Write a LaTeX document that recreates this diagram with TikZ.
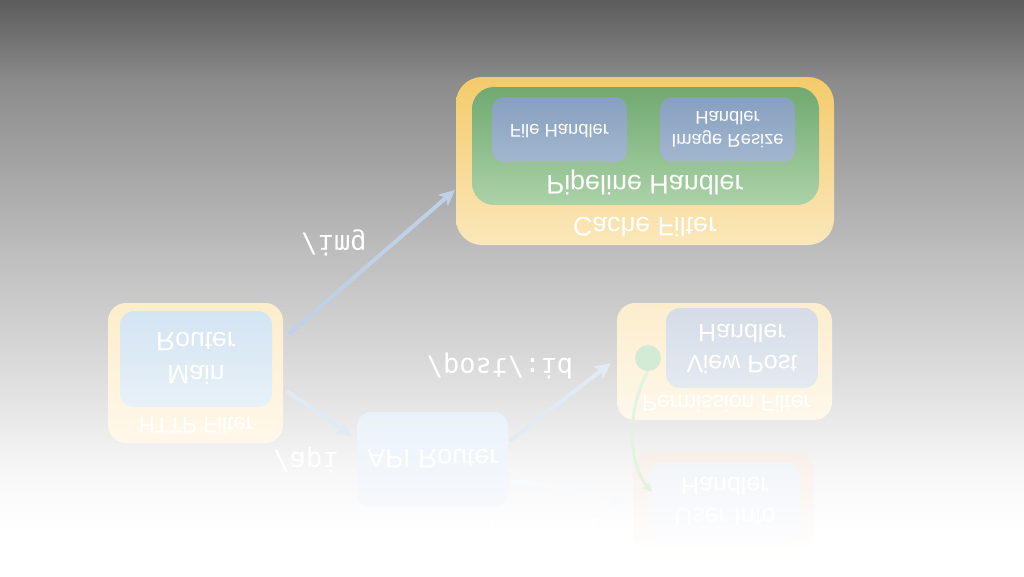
\documentclass[tikz,border=0pt]{standalone}
\usepackage{fontspec}
\setmainfont{Liberation Sans}
\newfontfamily\monofont{DejaVu Sans Mono}
\usetikzlibrary{arrows.meta}
\definecolor{bgA}{HTML}{5C5C5C}
\definecolor{bgB}{HTML}{8B8B8B}
\definecolor{bgC}{HTML}{BDBDBD}
\definecolor{bgD}{HTML}{E4E4E4}
\definecolor{bgE}{HTML}{F7F7F7}
\definecolor{bgF}{HTML}{FFFFFF}
\definecolor{cacheT}{HTML}{F4CB6A}
\definecolor{cacheB}{HTML}{FAE7BA}
\definecolor{pipeT}{HTML}{70A970}
\definecolor{pipeB}{HTML}{ACD2A8}
\definecolor{hndT}{HTML}{86A0BF}
\definecolor{hndB}{HTML}{A3B6CF}
\definecolor{httpT}{HTML}{FCEDCB}
\definecolor{httpB}{HTML}{FFF8EA}
\definecolor{mainT}{HTML}{D3E4F2}
\definecolor{mainB}{HTML}{E8F1F8}
\definecolor{permT}{HTML}{FCEDCD}
\definecolor{permB}{HTML}{FEF8EC}
\definecolor{viewT}{HTML}{D5DCE7}
\definecolor{viewB}{HTML}{E5EAF1}
\definecolor{apiT}{HTML}{EAF2F9}
\definecolor{apiB}{HTML}{F7F9FC}
\definecolor{usroT}{HTML}{F9EFE9}
\definecolor{usroB}{HTML}{FFFFFF}
\definecolor{usriT}{HTML}{F2F5F9}
\definecolor{usriB}{HTML}{FDFDFE}
\definecolor{arrImg}{HTML}{BED1E7}
\definecolor{arrApi}{HTML}{E0EAF4}
\definecolor{arrPost}{HTML}{E2EBF5}
\definecolor{arrUser}{HTML}{F8FAFC}
\definecolor{gDot}{HTML}{D3EBD5}
\definecolor{gLine}{HTML}{E2F3E2}
\begin{document}
\begin{tikzpicture}[x=1pt,y=-1pt,
  box/.style={rectangle, draw=none, inner sep=0pt, outer sep=0pt},
  flip/.style={yscale=-1, text=white, inner sep=0pt, outer sep=0pt, align=center},
  lbl/.style={flip, font=\monofont\fontsize{27}{32}\selectfont},
  arr/.style={line width=4pt, line cap=round, -{Stealth[length=16pt, width=15pt, inset=4pt]}}]
\useasboundingbox (0,0) rectangle (1024,576);
% background
\shade[top color=bgA, bottom color=bgB] (0,0) rectangle (1024,81);
\shade[top color=bgB, bottom color=bgC] (0,80) rectangle (1024,251);
\shade[top color=bgC, bottom color=bgD] (0,250) rectangle (1024,401);
\shade[top color=bgD, bottom color=bgE] (0,400) rectangle (1024,471);
\shade[top color=bgE, bottom color=bgF] (0,470) rectangle (1024,531);
\fill[bgF] (0,530) rectangle (1024,576);

% Cache filter group
\node[box, minimum width=378pt, minimum height=168pt, rounded corners=26pt, top color=cacheT, bottom color=cacheB] (cache) at (645,161) {};
\node[box, minimum width=347pt, minimum height=118pt, rounded corners=22pt, top color=pipeT, bottom color=pipeB] (pipe) at (645.5,146) {};
\node[box, minimum width=135pt, minimum height=65pt, rounded corners=12pt, top color=hndT, bottom color=hndB] (file) at (559.5,129.5) {};
\node[box, minimum width=135pt, minimum height=65pt, rounded corners=12pt, top color=hndT, bottom color=hndB] (resize) at (727.5,129.5) {};
\node[flip, font=\fontsize{26.7}{33}\selectfont] (cachelbl) at (645,227) {Cache Filter};
\node[flip, font=\fontsize{26.9}{33}\selectfont] (pipelbl) at (645,182.5) {Pipeline Handler};
\node[flip, font=\fontsize{18.4}{23}\selectfont] (filelbl) at (559.5,131) {File Handler};
\node[flip, font=\fontsize{18.4}{23}\selectfont] (resizelbl) at (727.5,130) {Image Resize\\Handler};

% HTTP filter group
\node[box, minimum width=175pt, minimum height=140pt, rounded corners=18pt, top color=httpT, bottom color=httpB] (http) at (195.5,373) {};
\node[box, minimum width=152pt, minimum height=96pt, rounded corners=14pt, top color=mainT, bottom color=mainB] (main) at (196,359) {};
\node[flip, font=\fontsize{26.5}{33}\selectfont] (mainlbl) at (196,358) {Main\\Router};
\node[flip, font=\fontsize{22.5}{28}\selectfont] (httplbl) at (196,426) {HTTP Filter};

% Permission filter group
\node[box, minimum width=215pt, minimum height=117pt, rounded corners=18pt, top color=permT, bottom color=permB] (perm) at (724.5,361.5) {};
\node[box, minimum width=152pt, minimum height=80pt, rounded corners=14pt, top color=viewT, bottom color=viewB] (view) at (742,348) {};
\node[flip, font=\fontsize{25}{31}\selectfont] (viewlbl) at (742,349) {View Post\\Handler};
\node[flip, font=\fontsize{22.7}{28}\selectfont] (permlbl) at (726.5,404) {Permission Filter};

% API router
\node[box, minimum width=151pt, minimum height=95pt, rounded corners=14pt, top color=apiT, bottom color=apiB] (api) at (432.5,459.5) {};
\node[flip, font=\fontsize{26.8}{33}\selectfont] (apilbl) at (433,459) {API Router};

% User info group
\node[box, minimum width=180pt, minimum height=100pt, rounded corners=18pt, top color=usroT, bottom color=usroB] (usro) at (723,502) {};
\node[box, minimum width=152pt, minimum height=78pt, rounded corners=14pt, top color=usriT, bottom color=usriB] (usri) at (724,501) {};
\node[flip, font=\fontsize{25}{31}\selectfont] (usrlbl) at (725,501.5) {User Info\\Handler};

% connectors
\draw[arr, color=arrImg] ([shift={(7,-40)}]http.east) -- ([shift={(-1,29)}]cache.west);
\draw[arr, color=arrApi] ([shift={(5,19)}]http.east) -- ([shift={(-5,-23.5)}]api.west);
\draw[arr, color=arrPost] ([shift={(3,-19.5)}]api.east) -- ([shift={(-6,1.5)}]perm.west);
\draw[arr, color=arrUser] ([shift={(3,20.5)}]api.east) -- ([shift={(-5,-2)}]usro.west);

\node[lbl] (limg) at (334,243) {/img};
\node[lbl] (lapi) at (306,460) {/api};
\node[lbl] (lpost) at (500,365.5) {/post/:id};
\node[lbl] (luser) at (545,528) {/user/:id};

% green connector
\node[circle, fill=gDot, minimum size=26pt, inner sep=0pt] (gdot) at (648,358) {};
\draw[line width=3pt, color=gLine, -{Stealth[length=10pt, width=10pt]}] (gdot.south) .. controls (626,410) and (628,465) .. ([shift={(4,-9)}]usri.west);
\end{tikzpicture}
\end{document}
